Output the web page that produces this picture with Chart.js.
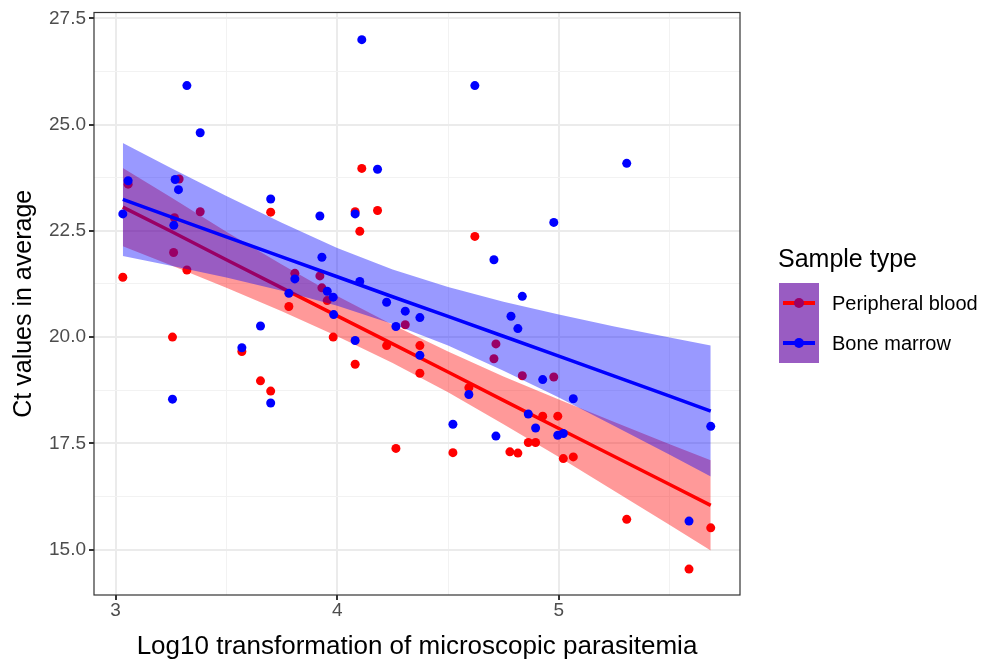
<!DOCTYPE html>
<html>
<head>
<meta charset="utf-8">
<script src="https://cdn.jsdelivr.net/npm/chart.js@4.4.1/dist/chart.umd.min.js"></script>
<style>
  body { margin: 0; background: #fff; }
  #wrap { position: relative; width: 981px; height: 662px; font-family: "Liberation Sans", Arial, sans-serif; }
  #legend { position: absolute; left: 778px; top: 240px; }
  .ltitle { position: absolute; left: 0; top: 4px; font-size: 25px; color: #000; white-space: nowrap; }
  .key { position: absolute; left: 1px; width: 40px; height: 40px; background: #995cc2; }
  .kline { position: absolute; left: 4px; width: 32px; height: 4px; top: 18px; }
  .kdot { position: absolute; left: 15px; top: 15px; width: 10px; height: 10px; border-radius: 50%; }
  .klabel { position: absolute; left: 54px; font-size: 20px; color: #000; white-space: nowrap; line-height: 40px; }
</style>
</head>
<body>
<div id="wrap">
  <canvas id="myChart" width="981" height="662"></canvas>
  <div id="legend"></div>
</div>
<script>
// Peripheral blood (red) points
const pbX  = [3.033, 3.057, 3.257, 3.262, 3.266, 3.287, 3.322, 3.382, 3.570, 3.654, 3.700, 3.700, 3.782, 3.809, 3.922, 3.931, 3.955, 3.982,
              4.081, 4.081, 4.102, 4.111, 4.182, 4.223, 4.265, 4.307, 4.373, 4.373, 4.522, 4.594, 4.621, 4.707, 4.716, 4.779, 4.815,
              4.835, 4.862, 4.895, 4.927, 4.977, 4.995, 5.020, 5.065, 5.306, 5.587, 5.685];
const pbCt = [21.41, 23.60, 20.00, 21.99, 22.81, 23.72, 21.58, 22.95, 19.66, 18.97, 22.94, 18.73, 20.72, 21.50, 21.44, 21.16, 20.86, 20.00,
              22.95, 19.36, 22.49, 23.97, 22.98, 19.80, 17.38, 20.29, 19.80, 19.15, 17.28, 18.81, 22.37, 19.49, 19.84, 17.30, 17.27,
              19.09, 17.52, 17.52, 18.14, 19.06, 18.14, 17.14, 17.18, 15.71, 14.54, 15.51];

// Bone marrow (blue) points
const bmX  = [3.033, 3.057, 3.257, 3.263, 3.269, 3.284, 3.322, 3.382, 3.570, 3.654, 3.700, 3.700, 3.782, 3.809, 3.922, 3.931, 3.955, 3.982,
              3.984, 4.081, 4.081, 4.102, 4.111, 4.182, 4.223, 4.265, 4.307, 4.373, 4.373, 4.522, 4.594, 4.621, 4.707, 4.716, 4.784,
              4.815, 4.835, 4.862, 4.895, 4.927, 4.977, 4.995, 5.020, 5.065, 5.306, 5.587, 5.685];
const bmCt = [22.90, 23.68, 18.54, 22.63, 23.71, 23.47, 25.92, 24.81, 19.75, 20.26, 23.25, 18.45, 21.03, 21.37, 22.85, 21.88, 21.08, 20.94,
              20.53, 22.90, 19.92, 21.31, 27.00, 23.95, 20.82, 20.25, 20.61, 20.46, 19.57, 17.95, 18.65, 25.92, 21.82, 17.67, 20.49,
              20.20, 20.96, 18.19, 17.86, 19.00, 22.70, 17.69, 17.73, 18.55, 24.09, 15.67, 17.90];

// fitted lines and confidence bands
const fitX    = [3.033, 3.25, 3.5, 3.75, 4.0, 4.25, 4.5, 4.75, 5.0, 5.25, 5.5, 5.685];
const pbFit   = [23.06, 22.49, 21.82, 21.16, 20.50, 19.84, 19.18, 18.51, 17.85, 17.19, 16.53, 16.04];
const pbUpper = [23.98, 23.29, 22.48, 21.71, 20.97, 20.29, 19.66, 19.07, 18.53, 18.00, 17.48, 17.10];
const pbLower = [22.14, 21.69, 21.16, 20.61, 20.02, 19.39, 18.70, 17.95, 17.18, 16.38, 15.58, 14.98];
const bmFit   = [23.24, 22.83, 22.36, 21.89, 21.42, 20.95, 20.49, 20.02, 19.55, 19.08, 18.61, 18.26];
const bmUpper = [24.57, 23.98, 23.32, 22.69, 22.10, 21.59, 21.18, 20.83, 20.53, 20.25, 19.99, 19.80];
const bmLower = [21.91, 21.68, 21.40, 21.09, 20.74, 20.31, 19.80, 19.21, 18.58, 17.91, 17.23, 16.72];

// ticks
const xMajor = [3, 4, 5];
const xMinor = [3.5, 4.5, 5.5];
const yMajor = [15, 17.5, 20, 22.5, 25, 27.5];
const yMinor = [16.25, 18.75, 21.25, 23.75, 26.25];

const seriesNames = ['Peripheral blood', 'Bone marrow'];
const seriesColors = ['#ff0000', '#0000ff'];

const fontFamily = "'Liberation Sans', Arial, sans-serif";
Chart.defaults.font.family = fontFamily;

function pts(xs, ys) {
    return xs.map((x, i) => ({ x: x, y: ys[i] }));
}
function isMajor(v, list) {
    return list.some(m => Math.abs(m - v) < 1e-9);
}

// panel border on top of the data, like ggplot theme_bw
const panelBorder = {
    id: 'panelBorder',
    afterDatasetsDraw(chart) {
        const { ctx, chartArea: a } = chart;
        ctx.save();
        ctx.strokeStyle = '#333333';
        ctx.lineWidth = 1.2;
        ctx.strokeRect(a.left, a.top, a.right - a.left, a.bottom - a.top);
        ctx.restore();
    }
};

const ctx = document.getElementById('myChart');
const myChart = new Chart(ctx, {
    type: 'scatter',
    data: {
        datasets: [
            { label: 'pbUpper', data: pts(fitX, pbUpper), showLine: true, pointRadius: 0, borderWidth: 0, borderColor: 'rgba(0,0,0,0)', fill: false, order: 10 },
            { label: 'pbLower', data: pts(fitX, pbLower), showLine: true, pointRadius: 0, borderWidth: 0, borderColor: 'rgba(0,0,0,0)', fill: '-1', backgroundColor: 'rgba(255,0,0,0.4)', order: 9 },
            { label: 'pbFit', data: pts(fitX, pbFit), showLine: true, pointRadius: 0, borderWidth: 3.5, borderColor: seriesColors[0], order: 8 },
            { label: seriesNames[0], data: pts(pbX, pbCt), pointRadius: 4.5, backgroundColor: seriesColors[0], borderWidth: 0, order: 7 },
            { label: 'bmUpper', data: pts(fitX, bmUpper), showLine: true, pointRadius: 0, borderWidth: 0, borderColor: 'rgba(0,0,0,0)', fill: false, order: 6 },
            { label: 'bmLower', data: pts(fitX, bmLower), showLine: true, pointRadius: 0, borderWidth: 0, borderColor: 'rgba(0,0,0,0)', fill: '-1', backgroundColor: 'rgba(0,0,255,0.4)', order: 5 },
            { label: 'bmFit', data: pts(fitX, bmFit), showLine: true, pointRadius: 0, borderWidth: 3.5, borderColor: seriesColors[1], order: 4 },
            { label: seriesNames[1], data: pts(bmX, bmCt), pointRadius: 4.5, backgroundColor: seriesColors[1], borderWidth: 0, order: 3 }
        ]
    },
    options: {
        responsive: false,
        animation: false,
        layout: { padding: { top: 12, right: 241, left: 0, bottom: 0 } },
        plugins: {
            legend: { display: false },
            tooltip: { enabled: false }
        },
        scales: {
            x: {
                type: 'linear',
                min: 2.903,
                max: 5.817,
                afterBuildTicks: s => { s.ticks = xMajor.concat(xMinor).sort((a, b) => a - b).map(v => ({ value: v })); },
                afterFit: s => { s.height = 67; },
                ticks: {
                    autoSkip: false,
                    maxRotation: 0,
                    padding: 1,
                    color: '#4d4d4d',
                    font: { size: 19, lineHeight: 1 },
                    callback: v => isMajor(v, xMajor) ? String(v) : ''
                },
                grid: {
                    color: c => isMajor(c.tick.value, xMajor) ? '#ebebeb' : '#f2f2f2',
                    lineWidth: c => isMajor(c.tick.value, xMajor) ? 2 : 1,
                    tickColor: c => isMajor(c.tick.value, xMajor) ? '#333333' : 'rgba(0,0,0,0)',
                    tickLength: 5
                },
                border: { display: false },
                title: {
                    display: true,
                    text: 'Log10 transformation of microscopic parasitemia',
                    color: '#000',
                    font: { size: 26 },
                    padding: { top: 5, bottom: 0 }
                }
            },
            y: {
                min: 13.93,
                max: 27.64,
                afterBuildTicks: s => { s.ticks = yMajor.concat(yMinor).sort((a, b) => a - b).map(v => ({ value: v })); },
                afterFit: s => { s.width = 94; },
                ticks: {
                    autoSkip: false,
                    padding: 3,
                    color: '#4d4d4d',
                    font: { size: 19, lineHeight: 1 },
                    callback: v => isMajor(v, yMajor) ? v.toFixed(1) : ''
                },
                grid: {
                    color: c => isMajor(c.tick.value, yMajor) ? '#ebebeb' : '#f2f2f2',
                    lineWidth: c => isMajor(c.tick.value, yMajor) ? 2 : 1,
                    tickColor: c => isMajor(c.tick.value, yMajor) ? '#333333' : 'rgba(0,0,0,0)',
                    tickLength: 5
                },
                border: { display: false },
                title: {
                    display: true,
                    text: 'Ct values in average',
                    color: '#000',
                    font: { size: 25 },
                    padding: { top: 9, bottom: 0 }
                }
            }
        }
    },
    plugins: [panelBorder]
});

// legend (html)
const legend = document.getElementById('legend');
legend.innerHTML = '<div class="ltitle">Sample type</div>';
const dotColors = ['#990066', seriesColors[1]];
seriesNames.forEach((name, i) => {
    const top = 43 + i * 40;
    legend.innerHTML +=
        '<div class="key" style="top:' + top + 'px">' +
        '<span class="kline" style="background:' + seriesColors[i] + '"></span>' +
        '<span class="kdot" style="background:' + dotColors[i] + '"></span></div>' +
        '<div class="klabel" style="top:' + top + 'px">' + name + '</div>';
});
</script>
</body>
</html>
